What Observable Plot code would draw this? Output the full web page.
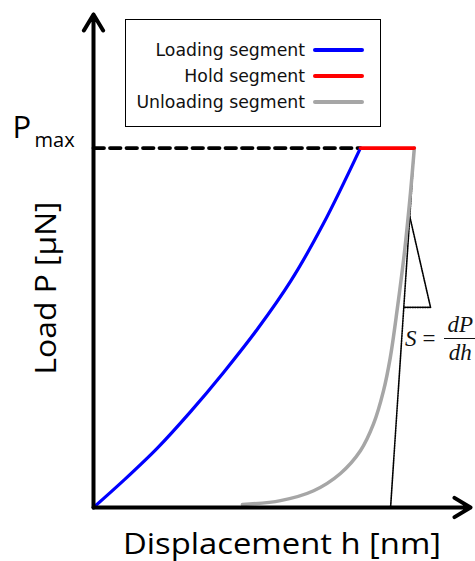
<!DOCTYPE html>
<html>
<head>
<meta charset="utf-8">
<script src="https://cdn.jsdelivr.net/npm/d3@7"></script>
<script src="https://cdn.jsdelivr.net/npm/@observablehq/plot@0.6"></script>
<style>
  html, body { margin: 0; padding: 0; background: #fff; }
  #wrap { position: relative; width: 475px; height: 561px; overflow: hidden; }
  #legend {
    position: absolute; left: 125px; top: 19px; width: 254px; height: 106px;
    border: 1.5px solid #000; background: #fff;
    font-family: "DejaVu Sans", sans-serif; font-size: 17.3px; color: #111;
  }
  .row { position: absolute; left: 0; width: 238px; height: 24px;
    display: flex; align-items: center; justify-content: flex-end; white-space: nowrap; }
  .swatch { display: inline-block; width: 51px; height: 3.5px; border-radius: 2px; margin-left: 8px; }
  #formula {
    position: absolute; left: 405px; top: 314px; display: flex; align-items: center;
    font-family: "Liberation Serif", serif; font-style: italic; color: #111; white-space: nowrap;
  }
  #formula .s { font-size: 23px; }
  #formula .eq { font-size: 23px; font-style: normal; margin: 0 9px 0 6px; }
  #formula .frac { display: inline-flex; flex-direction: column; align-items: center; font-size: 23px; line-height: 22px; }
  #formula .num { border-bottom: 1.3px solid #111; padding: 0 3px 2px 3px; }
  #formula .den { padding-top: 3px; }
</style>
</head>
<body>
<div id="wrap"></div>
<script>
// ---- data (h in arbitrary displacement units, P in arbitrary load units) ----
const pmax = 72.9;
const loadingH = [0, 8.0, 17.0, 25.7, 34.5, 43.5, 52.3, 61.0, 70.8];
const loadingP = [0, 5.5, 12.1, 19.4, 27.4, 36.2, 45.9, 57.6, 72.9];
const holdH = [70.8, 85.1];
const holdP = [72.9, 72.9];
const unloadingH = [85.1, 84.1, 82.5, 80.6, 78.7, 76.9, 74.3, 70.8, 65.5, 58.4, 49.6, 39.5];
const unloadingP = [72.9, 64.0, 51.9, 40.4, 30.3, 23.6, 17.0, 11.5, 6.9, 3.4, 1.4, 0.6];
const tangentH = [85.1, 78.8];
const tangentP = [72.9, 0];
const triangleH = [83.9, 89.4, 82.3];
const triangleP = [59.0, 40.6, 40.6];
const axisEnds = { h: 100, P: 100 };
const seriesNames = ["Loading segment", "Hold segment", "Unloading segment"];
const seriesColors = ["#0000ff", "#ff0000", "#a6a6a6"];
const xLabel = "Displacement h [nm]";
const yLabel = "Load P [\u03bcN]";

const zip = (H, P) => H.map((h, i) => ({h, P: P[i]}));
const loading = zip(loadingH, loadingP);
const hold = zip(holdH, holdP);
const unloading = zip(unloadingH, unloadingP);
const tangent = zip(tangentH, tangentP);
const triangle = zip(triangleH, triangleP);
const pmaxLine = [{h: 0, P: pmax}, {h: loading[loading.length - 1].h, P: pmax}];
const axes = [
  {x1: 0, y1: 0, x2: 0, y2: axisEnds.P},
  {x1: 0, y1: 0, x2: axisEnds.h, y2: 0}
];

const plot = Plot.plot({
  width: 475,
  height: 561,
  marginLeft: 93,
  marginRight: 5,
  marginTop: 14,
  marginBottom: 54,
  x: {domain: [0, 100], axis: null},
  y: {domain: [0, 100], axis: null},
  style: {background: "transparent", overflow: "visible"},
  marks: [
    Plot.line(pmaxLine, {x: "h", y: "P", stroke: "#000", strokeWidth: 3.8, strokeDasharray: "10.5 6"}),
    Plot.line(tangent, {x: "h", y: "P", stroke: "#000", strokeWidth: 1.6, strokeDasharray: "1.5 1"}),
    Plot.line(triangle, {x: "h", y: "P", stroke: "#000", strokeWidth: 1.6, strokeDasharray: "1.5 1"}),
    Plot.line(unloading, {x: "h", y: "P", stroke: seriesColors[2], strokeWidth: 3.5, curve: "catmull-rom"}),
    Plot.line(loading, {x: "h", y: "P", stroke: seriesColors[0], strokeWidth: 3.2, curve: "catmull-rom"}),
    Plot.line(hold, {x: "h", y: "P", stroke: seriesColors[1], strokeWidth: 3.6}),
    Plot.arrow(axes, {x1: "x1", y1: "y1", x2: "x2", y2: "y2", stroke: "#000", strokeWidth: 4,
      headLength: 7, headAngle: 62, strokeLinecap: "round", strokeLinejoin: "round"}),
    Plot.text(["P"], {x: 0, y: pmax, text: d => d, textAnchor: "start", lineAnchor: "bottom",
      dx: -81, dy: -10, fontSize: 31, fontFamily: "Open Sans", fill: "#000"}),
    Plot.text(["max"], {x: 0, y: pmax, text: d => d, textAnchor: "start", lineAnchor: "bottom",
      dx: -59, dy: -1, fontSize: 20, fontFamily: "Open Sans", fill: "#000"}),
    Plot.text([xLabel], {frameAnchor: "bottom", text: d => d, textAnchor: "middle", lineAnchor: "bottom", dy: 46,
      fontSize: 30, fontFamily: "Open Sans", fill: "#000", className: "xlab"}),
    Plot.text([yLabel], {frameAnchor: "left", text: d => d, textAnchor: "middle", rotate: -90, lineAnchor: "bottom",
      dx: -38, dy: 27, fontSize: 30, fontFamily: "Open Sans", fill: "#000", className: "ylab"})
  ]
});

// stretch axis titles to the reference widths
d3.select(plot).selectAll(".xlab text").attr("textLength", 318).attr("lengthAdjust", "spacingAndGlyphs");
d3.select(plot).selectAll(".ylab text").attr("textLength", 173).attr("lengthAdjust", "spacingAndGlyphs");

const wrap = document.getElementById("wrap");
wrap.appendChild(plot);

// legend
const legend = document.createElement("div");
legend.id = "legend";
seriesNames.forEach((name, i) => {
  const row = document.createElement("div");
  row.className = "row";
  row.style.top = (18 + i * 26) + "px";
  const t = document.createElement("span");
  t.textContent = name;
  const sw = document.createElement("span");
  sw.className = "swatch";
  sw.style.background = seriesColors[i];
  row.appendChild(t);
  row.appendChild(sw);
  legend.appendChild(row);
});
wrap.appendChild(legend);

// formula S = dP/dh
const f = document.createElement("div");
f.id = "formula";
f.innerHTML = '<span class="s">S</span><span class="eq">=</span>' +
  '<span class="frac"><span class="num">dP</span><span class="den">dh</span></span>';
wrap.appendChild(f);
</script>
</body>
</html>
